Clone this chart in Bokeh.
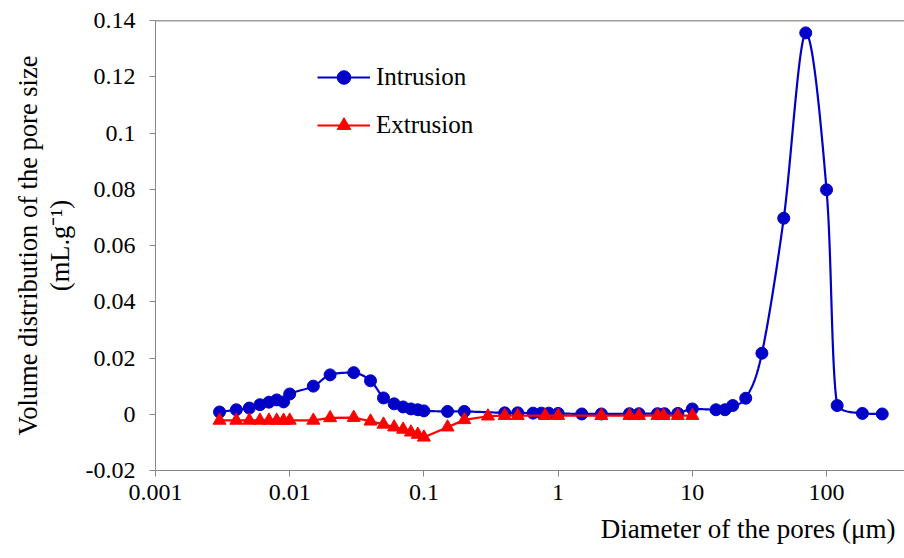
import math
from bokeh.plotting import figure
from bokeh.models import FixedTicker, Span, Legend, LegendItem, Title, Range1d
from bokeh.embed import file_html
from bokeh.resources import INLINE

# ---- data ----
intrusion_d = [0.003, 0.004, 0.005, 0.006, 0.007, 0.008, 0.009, 0.01, 0.015, 0.02,
               0.03, 0.04, 0.05, 0.06, 0.07, 0.08, 0.09, 0.1, 0.15, 0.2,
               0.4, 0.5, 0.65, 0.75, 0.85, 1.0, 1.5, 2.1, 3.4, 4.0,
               5.5, 6.2, 7.8, 10, 15, 17.5, 20, 25, 33, 48,
               70, 100, 120, 185, 260]
intrusion_v = [0.0008, 0.0016, 0.0022, 0.0034, 0.0043, 0.0051, 0.0044, 0.0072, 0.0100, 0.0140,
               0.0148, 0.0119, 0.0058, 0.0037, 0.0026, 0.0019, 0.0016, 0.0012, 0.0010, 0.0010,
               0.0005, 0.0005, 0.0004, 0.0004, 0.0004, 0.0003, 0.0001, 0.0001, 0.0002, 0.0002,
               0.0002, 0.0002, 0.0003, 0.0019, 0.0016, 0.0016, 0.0031, 0.0057, 0.0217, 0.0697,
               0.1356, 0.0798, 0.0031, 0.0003, 0.0001]

extrusion_d = [0.003, 0.004, 0.005, 0.006, 0.007, 0.008, 0.009, 0.01, 0.015, 0.02,
               0.03, 0.04, 0.05, 0.06, 0.07, 0.08, 0.09, 0.1, 0.15, 0.2,
               0.3, 0.4, 0.5, 0.8, 1.0, 2.1, 3.4, 4.0, 5.5, 6.1, 7.8, 10]
extrusion_v = [-0.0022, -0.0022, -0.0022, -0.0022, -0.0022, -0.0022, -0.0022, -0.0022, -0.0022, -0.0013,
               -0.0012, -0.0025, -0.0036, -0.0046, -0.0054, -0.0064, -0.0072, -0.0082, -0.0046, -0.0020,
               -0.0007, -0.0005, -0.0005, -0.0005, -0.0005, -0.0005, -0.0005, -0.0005, -0.0005, -0.0005, -0.0005, -0.0005]

x_ticks = [0.001, 0.01, 0.1, 1, 10, 100]
x_tick_labels = ["0.001", "0.01", "0.1", "1", "10", "100"]
y_ticks = [-0.02, 0.0, 0.02, 0.04, 0.06, 0.08, 0.1, 0.12, 0.14]
y_tick_labels = ["-0.02", "0", "0.02", "0.04", "0.06", "0.08", "0.1", "0.12", "0.14"]

x_title = "Diameter of the pores (\u03BCm)"
y_title = "Volume distribution of the pore size\n(mL.g\u207B\u00B9)"

FONT = "Liberation Serif"
BLUE = "#0000C8"
RED = "#FF0000"
AXIS_GRAY = "#878787"


def smooth_curve(xs, ys, n=30):
    """Smoothed line (Bezier, Catmull-Rom tangents, clamped to avoid overshoot) in log10(x)/y space."""
    pts = [(math.log10(a), b) for a, b in zip(xs, ys)]
    m = len(pts)
    ox, oy = [], []
    for i in range(m - 1):
        p0 = pts[i - 1] if i > 0 else pts[i]
        p1 = pts[i]
        p2 = pts[i + 1]
        p3 = pts[i + 2] if i + 2 < m else pts[i + 1]
        lo, hi = min(p1[1], p2[1]), max(p1[1], p2[1])
        c1 = (p1[0] + (p2[0] - p0[0]) / 6.0, min(max(p1[1] + (p2[1] - p0[1]) / 6.0, lo), hi))
        c2 = (p2[0] - (p3[0] - p1[0]) / 6.0, min(max(p2[1] - (p3[1] - p1[1]) / 6.0, lo), hi))
        for k in range(n):
            t = k / n
            u = 1 - t
            bx = u**3 * p1[0] + 3 * u * u * t * c1[0] + 3 * u * t * t * c2[0] + t**3 * p2[0]
            by = u**3 * p1[1] + 3 * u * u * t * c1[1] + 3 * u * t * t * c2[1] + t**3 * p2[1]
            ox.append(10 ** bx)
            oy.append(by)
    ox.append(10 ** pts[-1][0])
    oy.append(pts[-1][1])
    return ox, oy


p = figure(width=904, height=558, x_axis_type="log",
           x_range=Range1d(0.001, 381), y_range=Range1d(-0.02, 0.14),
           output_backend="svg", toolbar_location=None,
           min_border_left=155, min_border_right=0, min_border_top=20, min_border_bottom=88)
p.outline_line_color = None
p.xgrid.grid_line_color = None
p.ygrid.grid_line_color = None
p.background_fill_color = "white"
p.border_fill_color = "white"

# top border line of the plot area
p.add_layout(Span(location=0.14, dimension="width", line_color="#3C3C3C", line_width=1.6))

sx, sy = smooth_curve(intrusion_d, intrusion_v)
l_in = p.line(sx, sy, line_color=BLUE, line_width=2.2)
s_in = p.scatter(intrusion_d, intrusion_v, marker="circle", size=12, fill_color=BLUE, line_color=BLUE)

l_ex = p.line(extrusion_d, extrusion_v, line_color=RED, line_width=2.2)
s_ex = p.scatter(extrusion_d, extrusion_v, marker="triangle", size=13, fill_color=RED, line_color=RED)

for ax in (p.xaxis[0], p.yaxis[0]):
    ax.axis_line_color = AXIS_GRAY
    ax.major_tick_line_color = AXIS_GRAY
    ax.minor_tick_line_color = None
    ax.major_tick_out = 6
    ax.major_tick_in = 0
    ax.major_label_text_font = FONT
    ax.major_label_text_font_size = "24px"
    ax.major_label_text_color = "black"

p.xaxis.ticker = FixedTicker(ticks=x_ticks)
p.xaxis.major_label_overrides = dict(zip(x_ticks, x_tick_labels))
p.xaxis.major_label_standoff = 8

p.yaxis.ticker = FixedTicker(ticks=y_ticks)
p.yaxis.major_label_overrides = dict(zip(y_ticks, y_tick_labels))
p.yaxis.major_label_standoff = 14
p.yaxis.axis_label = y_title
p.yaxis.axis_label_text_font = FONT
p.yaxis.axis_label_text_font_size = "26.5px"
p.yaxis.axis_label_text_font_style = "normal"
p.yaxis.axis_label_text_color = "black"
p.yaxis.axis_label_text_line_height = 1.05
p.yaxis.axis_label_standoff = 8

xt = Title(text=x_title, align="right", text_font=FONT,
           text_font_size="27px", text_font_style="normal", text_color="black",
           offset=9, standoff=18)
p.add_layout(xt, "below")

legend = Legend(items=[LegendItem(label="Intrusion", renderers=[l_in, s_in]),
                       LegendItem(label="Extrusion", renderers=[l_ex, s_ex])],
                location=(162, 328), orientation="vertical",
                border_line_color=None, background_fill_alpha=0,
                label_text_font=FONT, label_text_font_size="25px", label_text_color="black",
                glyph_width=53, glyph_height=34, label_height=26, spacing=14,
                padding=0, margin=0, label_standoff=6)
p.add_layout(legend)

open("out.html", "w").write(file_html(p, INLINE))
